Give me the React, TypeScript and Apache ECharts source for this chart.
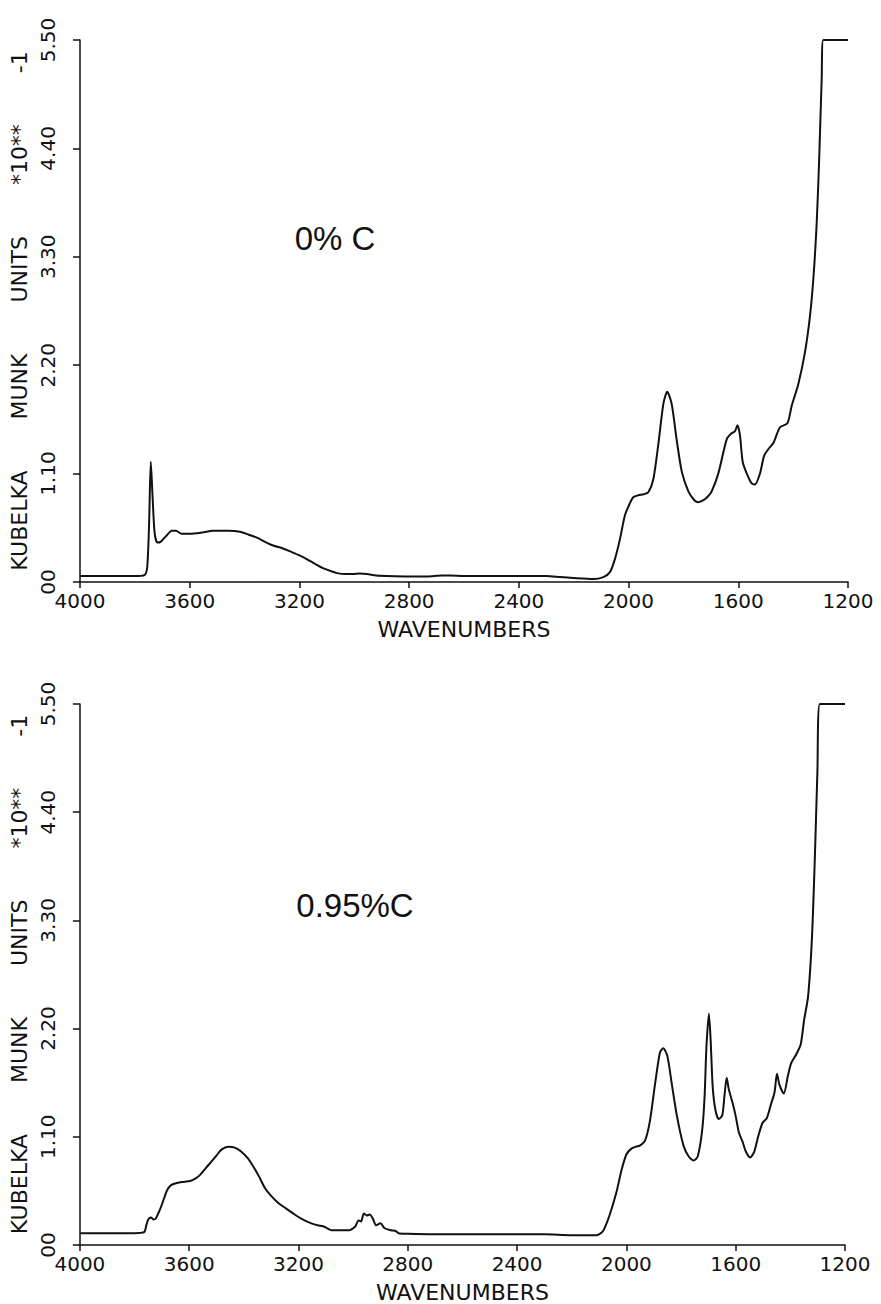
import React, { useEffect, useRef } from "react";
import * as echarts from "echarts";

// Panel 1: 0% C
const topWavenumbers = [
  4000, 3800, 3765, 3755, 3748, 3742, 3736, 3728, 3718, 3705, 3685, 3665, 3650, 3630, 3600,
  3560, 3515, 3460, 3417, 3385, 3355, 3320, 3296, 3260, 3234, 3200, 3172, 3140, 3114, 3085,
  3063, 3030, 3005, 2980, 2954, 2920, 2881, 2800, 2735, 2680, 2651, 2600, 2500, 2400, 2300,
  2250, 2200, 2128, 2092, 2068, 2049, 2031, 2013, 1995, 1983, 1965, 1945, 1928, 1910, 1891,
  1873, 1859, 1843, 1825, 1806, 1782, 1760, 1745, 1727, 1710, 1697, 1673, 1642, 1624, 1612,
  1603, 1594, 1584, 1569, 1551, 1539, 1521, 1506, 1490, 1472, 1448, 1421, 1405, 1381, 1357,
  1339, 1326, 1314, 1305, 1296, 1290, 1200,
];
const topValues = [
  0.06, 0.06, 0.07, 0.15, 0.6, 1.22, 0.9, 0.5, 0.4, 0.41, 0.47, 0.52, 0.52, 0.49, 0.49,
  0.5, 0.52, 0.52, 0.51, 0.48, 0.45, 0.4, 0.37, 0.34, 0.31, 0.27, 0.23, 0.18, 0.14, 0.11,
  0.09, 0.08, 0.08, 0.085, 0.08, 0.065, 0.06, 0.055, 0.055, 0.065, 0.065, 0.06, 0.06, 0.06, 0.06,
  0.05, 0.04, 0.03, 0.05, 0.1, 0.24, 0.44, 0.68, 0.8, 0.86, 0.88, 0.89, 0.91, 1.04, 1.41,
  1.81, 1.93, 1.81, 1.45, 1.12, 0.92, 0.83, 0.81, 0.83, 0.87, 0.92, 1.1, 1.45, 1.51, 1.53,
  1.59, 1.49, 1.22, 1.1, 1.0, 0.99, 1.1, 1.28, 1.35, 1.41, 1.57, 1.61, 1.79, 2.01, 2.33,
  2.69, 3.09, 3.65, 4.3, 5.1, 5.5, 5.5,
];

// Panel 2: 0.95% C
const bottomWavenumbers = [
  4000, 3800, 3765, 3757, 3750, 3740, 3730, 3722, 3707, 3695, 3682, 3670, 3658, 3628, 3597,
  3575, 3561, 3540, 3518, 3500, 3482, 3457, 3433, 3410, 3385, 3366, 3345, 3323, 3300, 3275,
  3245, 3214, 3185, 3153, 3130, 3110, 3095, 3080, 3040, 3013, 3000, 2992, 2980, 2971, 2961,
  2950, 2940, 2928, 2916, 2900, 2885, 2861, 2843, 2834, 2800, 2704, 2600, 2460, 2300, 2200,
  2111, 2086, 2062, 2037, 2018, 2000, 1982, 1965, 1951, 1932, 1914, 1895, 1877, 1865, 1850,
  1834, 1815, 1791, 1772, 1754, 1739, 1723, 1714, 1707, 1698, 1692, 1684, 1674, 1662, 1649,
  1641, 1633, 1625, 1612, 1600, 1588, 1575, 1563, 1547, 1532, 1518, 1502, 1486, 1471, 1458,
  1449, 1440, 1424, 1409, 1397, 1378, 1362, 1350, 1335, 1321, 1311, 1301, 1292, 1200,
];
const bottomValues = [
  0.12, 0.12, 0.13, 0.2, 0.26, 0.28, 0.26, 0.27, 0.36, 0.45, 0.55, 0.6, 0.62, 0.64, 0.65,
  0.68, 0.71, 0.78, 0.85, 0.91, 0.97, 1.0, 0.99, 0.95, 0.88, 0.8, 0.7, 0.58, 0.5, 0.43,
  0.37, 0.31, 0.26, 0.22, 0.2, 0.19, 0.17, 0.15, 0.15, 0.15, 0.17, 0.19, 0.25, 0.24, 0.32,
  0.3, 0.31, 0.27, 0.2, 0.22, 0.17, 0.15, 0.14, 0.12, 0.115, 0.11, 0.11, 0.11, 0.11, 0.1,
  0.1, 0.14, 0.3, 0.53, 0.76, 0.92, 0.98, 1.0, 1.01, 1.06, 1.26, 1.64, 1.96, 2.0, 1.92,
  1.64, 1.31, 1.01, 0.9, 0.86, 0.9, 1.16, 1.5, 2.02, 2.35, 2.1, 1.6, 1.37, 1.28, 1.32,
  1.52, 1.7, 1.58, 1.45, 1.31, 1.14, 1.05, 0.95, 0.89, 0.95, 1.1, 1.24, 1.29, 1.43, 1.55,
  1.74, 1.63, 1.54, 1.72, 1.85, 1.94, 2.04, 2.28, 2.53, 3.12, 3.88, 4.81, 5.5, 5.5,
];

const xMin = 1200;
const xMax = 4000;
const xStep = 400;
const yMin = 0;
const yMax = 5.5;
const yStep = 1.1;
const xAxisName = "WAVENUMBERS";
const yAxisWords = ["KUBELKA", "MUNK", "UNITS", "*10**", "-1"];
const panelLabels = ["0% C", "0.95%C"];

const FONT = "DejaVu Sans";
const INK = "#111111";

export default function App() {
  const ref = useRef<HTMLDivElement>(null);
  useEffect(() => {
    if (!ref.current) return;
    const chart = echarts.init(ref.current, null, { renderer: "svg" });
    const grids = [
      { left: 80, top: 40, width: 768, height: 542 },
      { left: 78, top: 704, width: 767, height: 541 },
    ];
    const yAxisName = yAxisWords.join("\u2002\u2002\u2002\u2002 ");
    const xAxes = grids.map((_, i) => ({
      type: "value",
      gridIndex: i,
      min: xMin,
      max: xMax,
      interval: xStep,
      inverse: true,
      name: xAxisName,
      nameLocation: "middle",
      nameGap: 36,
      nameTextStyle: { fontFamily: FONT, fontSize: 22, color: INK },
      axisLine: { show: true, lineStyle: { color: INK, width: 1.5 } },
      axisTick: { show: true, inside: false, length: 6, lineStyle: { color: INK, width: 1.5 } },
      axisLabel: {
        fontFamily: FONT,
        fontSize: 20,
        color: INK,
        margin: 9,
        formatter: (v: number) => String(Math.round(v)),
      },
      splitLine: { show: false },
    }));
    const yAxes = grids.map((_, i) => ({
      type: "value",
      gridIndex: i,
      min: yMin,
      max: yMax,
      interval: yStep,
      name: yAxisName,
      nameLocation: "middle",
      nameGap: 46,
      nameRotate: 90,
      nameTextStyle: { fontFamily: FONT, fontSize: 22, color: INK },
      axisLine: { show: true, onZero: false, lineStyle: { color: INK, width: 1.5 } },
      axisTick: { show: true, inside: false, length: 7, lineStyle: { color: INK, width: 1.5 } },
      axisLabel: {
        fontFamily: FONT,
        fontSize: 20,
        color: INK,
        rotate: 90,
        margin: 22,
        formatter: (v: number) => (Math.abs(v) < 1e-9 ? "00" : v.toFixed(2)),
      },
      splitLine: { show: false },
    }));
    const makeData = (xs: number[], ys: number[]) => xs.map((x, k) => [x, ys[k]]);
    const option = {
      animation: false,
      backgroundColor: "#ffffff",
      grid: grids,
      xAxis: xAxes,
      yAxis: yAxes,
      series: [
        {
          type: "line",
          xAxisIndex: 0,
          yAxisIndex: 0,
          data: makeData(topWavenumbers, topValues),
          showSymbol: false,
          smooth: 0.25,
          lineStyle: { color: INK, width: 2 },
        },
        {
          type: "line",
          xAxisIndex: 1,
          yAxisIndex: 1,
          data: makeData(bottomWavenumbers, bottomValues),
          showSymbol: false,
          smooth: 0.25,
          lineStyle: { color: INK, width: 2 },
        },
      ],
      graphic: [
        {
          type: "text",
          x: 335,
          y: 238,
          style: {
            text: panelLabels[0],
            fontFamily: "Liberation Sans",
            fontSize: 33,
            fill: INK,
            align: "center",
            verticalAlign: "middle",
          },
        },
        {
          type: "text",
          x: 355,
          y: 905,
          style: {
            text: panelLabels[1],
            fontFamily: "Liberation Sans",
            fontSize: 33,
            fill: INK,
            align: "center",
            verticalAlign: "middle",
          },
        },
      ],
    };
    chart.setOption(option as any);
    return () => chart.dispose();
  }, []);
  return (
    <div
      ref={ref}
      style={{ position: "absolute", left: 0, top: 0, width: 881, height: 1304, background: "#fff" }}
    />
  );
}
